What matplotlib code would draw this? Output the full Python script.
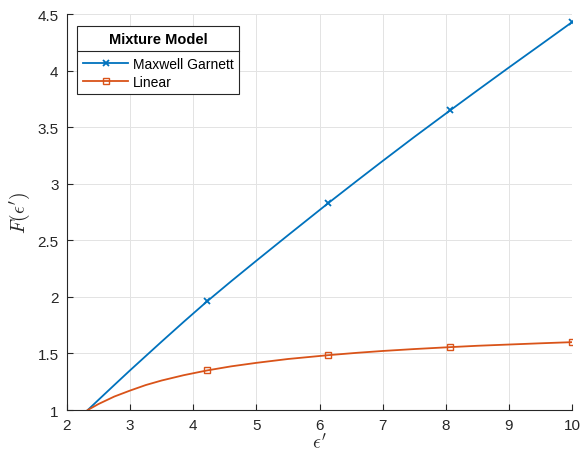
import matplotlib
matplotlib.use("Agg")
import matplotlib.pyplot as plt
from matplotlib.lines import Line2D

plt.rcParams['font.family'] = ['Liberation Sans', 'DejaVu Sans']
plt.rcParams['mathtext.fontset'] = 'cm'

# Données
eps = [2.33, 2.5, 2.75, 3.0, 3.25, 3.5, 3.85, 4.22, 4.6, 5.0, 5.5,
       6.14, 6.6, 7.0, 7.5, 8.07, 8.5, 9.0, 9.5, 10.0]
maxwell = [1.0, 1.09, 1.221, 1.351, 1.478, 1.605, 1.78, 1.961, 2.138, 2.32, 2.545,
           2.83, 3.03, 3.202, 3.414, 3.65, 3.826, 4.029, 4.229, 4.43]
linear = [1.0, 1.053, 1.119, 1.172, 1.221, 1.261, 1.308, 1.35, 1.386, 1.417, 1.451,
          1.485, 1.506, 1.522, 1.539, 1.556, 1.568, 1.579, 1.59, 1.60]
marks = [7, 11, 15, 19]

blue = '#0072BD'
orange = '#D95319'
axc = '#262626'

fig = plt.figure(figsize=(5.82, 4.6), dpi=100)
ax = fig.add_axes([0.115, 0.1065, 0.868, 0.8605])

ax.plot(eps, maxwell, color=blue, lw=1.3, marker='x', ms=4.5, mew=1.3,
        markevery=marks, label='Maxwell Garnett')
ax.plot(eps, linear, color=orange, lw=1.3, marker='s', ms=4, mew=1.0,
        mfc='none', markevery=marks, label='Linear')

ax.set_xlim(2, 10)
ax.set_ylim(1, 4.5)
ax.set_xticks(range(2, 11))
ax.set_yticks([1, 1.5, 2, 2.5, 3, 3.5, 4, 4.5])
ax.set_yticklabels(['1', '1.5', '2', '2.5', '3', '3.5', '4', '4.5'])
ax.grid(True, color='#e3e3e3', lw=0.7)
ax.set_axisbelow(True)
for s in ['top', 'right']:
    ax.spines[s].set_visible(False)
for s in ['left', 'bottom']:
    ax.spines[s].set_color(axc)
    ax.spines[s].set_linewidth(0.8)
ax.tick_params(direction='in', length=4, width=0.8, colors=axc,
               labelsize=11, labelcolor=axc, pad=6)

ax.set_xlabel(r"$\epsilon'$", fontsize=14, color=axc, labelpad=0)
ax.set_ylabel(r"$F(\epsilon')$", fontsize=14, color=axc, labelpad=4)

leg = ax.legend(title='Mixture Model', loc='upper left',
                bbox_to_anchor=(0.02, 0.97), fancybox=False,
                edgecolor=axc, framealpha=1, fontsize=10,
                title_fontproperties={'weight': 'bold', 'size': 10.5},
                handlelength=3.3, borderpad=0.4, labelspacing=0.3,
                handletextpad=0.3, borderaxespad=0)
leg.get_frame().set_linewidth(0.8)
leg._legend_box.sep = 8

# trait de séparation sous le titre de la légende
fig.canvas.draw()
r = fig.canvas.get_renderer()
fb = leg.get_frame().get_window_extent(r)
tb = leg.get_title().get_window_extent(r)
hb = leg._legend_handle_box.get_window_extent(r)
ysep = 0.5 * (tb.y0 + hb.y1)
inv = fig.transFigure.inverted()
(x0, y0) = inv.transform((fb.x0, ysep))
(x1, _) = inv.transform((fb.x1, ysep))
fig.add_artist(Line2D([x0, x1], [y0, y0], color=axc, lw=0.8))

fig.savefig('out.png', dpi=100)
